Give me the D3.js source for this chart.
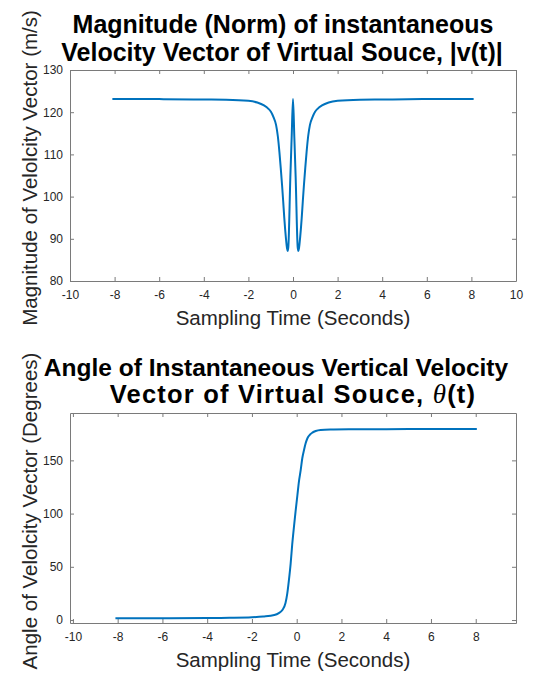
<!DOCTYPE html>
<head>
<meta charset="utf-8">
<style>
  body { margin: 0; background: #fff; }
  text { font-family: "Liberation Sans", Arial, Helvetica, sans-serif; }
  .axis path, .axis line { stroke: #7a7a7a; }
  .axis text { fill: #262626; font-size: 12px; }
  .title { font-weight: bold; fill: #000; text-anchor: middle; }
  .label { fill: #262626; text-anchor: middle; }
</style>
</head>
<body>
<svg width="546" height="675" id="svgMain"></svg>
<script src="https://cdn.jsdelivr.net/npm/d3@7"></script>
<script>
//-----------------------------------------------------
//   DATA
//-----------------------------------------------------
// top panel: |v(t)| in m/s
var tTop = [-8.1, -6, -4, -3, -2, -1.6, -1.3, -1.1, -0.99, -0.88, -0.76, -0.68, -0.61, -0.55, -0.49, -0.44,
            -0.39, -0.32, -0.27, -0.24, -0.21, -0.12, -0.06, 0,
            0.06, 0.12, 0.21, 0.24, 0.27, 0.32, 0.39, 0.44, 0.49, 0.55, 0.61, 0.68, 0.76, 0.88, 0.99,
            1.1, 1.3, 1.6, 2, 3, 4, 6, 8.1];
var vTop = [123.1, 123.1, 123.0, 122.95, 122.7, 122.3, 121.6, 120.8, 120.1, 118.9, 117.0, 114.3, 110.6, 106.8, 102.7, 98.9,
            94.9, 90.3, 87.8, 87.1, 88.0, 104.5, 114.0, 123.1,
            114.0, 104.5, 88.0, 87.1, 87.8, 90.3, 94.9, 98.9, 102.7, 106.8, 110.6, 114.3, 117.0, 118.9, 120.1,
            120.8, 121.6, 122.3, 122.7, 122.95, 123.0, 123.1, 123.1];

// bottom panel: theta(t) in degrees
var tBot = [-8.1, -6, -4, -3, -2, -1.5, -1.0, -0.8, -0.64, -0.5, -0.42, -0.35, -0.27, -0.2, -0.12, -0.05,
            0.03, 0.1, 0.18, 0.25, 0.33, 0.4, 0.48, 0.6, 0.7, 0.85, 1.07, 1.5, 2.4, 4, 6, 8.05];
var angBot = [1.6, 1.7, 1.9, 2.1, 2.6, 3.3, 4.7, 6.5, 9.4, 16, 25, 37, 53, 71, 88, 102,
              117, 130, 141, 152, 160, 166, 170.8, 174.3, 176, 177.6, 178.6, 179.0, 179.2, 179.3, 179.4, 179.5];

var xTicksTop = [-10, -8, -6, -4, -2, 0, 2, 4, 6, 8, 10];
var yTicksTop = [80, 90, 100, 110, 120, 130];
var xTicksBot = [-10, -8, -6, -4, -2, 0, 2, 4, 6, 8];
var yTicksBot = [0, 50, 100, 150];

var svg = d3.select("svg");

//-----------------------------------------------------
//   ONE MATLAB-STYLE PANEL (BOX, INWARD TICKS)
//-----------------------------------------------------
function drawPanel(p) {
  var x = d3.scaleLinear().domain(p.xDom).range([p.left, p.right]),
      y = d3.scaleLinear().domain(p.yDom).range([p.bottom, p.top]),
      fmt = function(d) { return String(d); },
      g = svg.append("g");

  g.append("g").attr("class", "axis")
      .attr("transform", "translate(0," + p.bottom + ")")
      .call(d3.axisBottom(x).tickValues(p.xTicks).tickFormat(fmt)
        .tickSizeInner(-4).tickSizeOuter(0).tickPadding(p.xPad));
  g.append("g").attr("class", "axis")
      .attr("transform", "translate(0," + p.top + ")")
      .call(d3.axisTop(x).tickValues(p.xTicks).tickFormat("")
        .tickSizeInner(-4).tickSizeOuter(0));
  g.append("g").attr("class", "axis")
      .attr("transform", "translate(" + p.left + ",0)")
      .call(d3.axisLeft(y).tickValues(p.yTicks).tickFormat(fmt)
        .tickSizeInner(-4).tickSizeOuter(0).tickPadding(7));
  g.append("g").attr("class", "axis")
      .attr("transform", "translate(" + p.right + ",0)")
      .call(d3.axisRight(y).tickValues(p.yTicks).tickFormat("")
        .tickSizeInner(-4).tickSizeOuter(0));

  var line = d3.line()
      .curve(d3.curveMonotoneX)
      .x(function(d) { return x(d[0]); })
      .y(function(d) { return y(d[1]); });

  g.append("path")
      .datum(d3.zip(p.xs, p.ys))
      .attr("fill", "none")
      .attr("stroke", "#0072BD")
      .attr("stroke-width", 2)
      .attr("stroke-linejoin", "round")
      .attr("d", line);

  g.append("text").attr("class", "label")
      .attr("x", (p.left + p.right) / 2)
      .attr("y", p.xLabelY)
      .style("font-size", "20.5px")
      .text("Sampling Time (Seconds)");

  g.append("text").attr("class", "label")
      .attr("transform", "translate(37," + p.yLabelMid + ") rotate(-90)")
      .style("font-size", "20.5px")
      .text(p.yLabel);
  return g;
}

drawPanel({
  left: 70, right: 516, top: 70, bottom: 281,
  xDom: [-10, 10], yDom: [80, 130],
  xTicks: xTicksTop, yTicks: yTicksTop, xPad: 9,
  xs: tTop, ys: vTop,
  xLabelY: 325, yLabel: "Magnitude of Velolcity Vector (m/s)", yLabelMid: 168
});

drawPanel({
  left: 70, right: 516, top: 413, bottom: 623,
  xDom: [-10.13, 9.8], yDom: [-2.8, 194.5],
  xTicks: xTicksBot, yTicks: yTicksBot, xPad: 9,
  xs: tBot, ys: angBot,
  xLabelY: 667, yLabel: "Angle of Velolcity Vector (Degrees)", yLabelMid: 511
});

//-----------------------------------------------------
//   TITLES
//-----------------------------------------------------
svg.append("text").attr("class", "title")
    .attr("x", 283).attr("y", 33).style("font-size", "25px")
    .text("Magnitude (Norm) of instantaneous");
svg.append("text").attr("class", "title")
    .attr("x", 282).attr("y", 61).style("font-size", "25px")
    .text("Velocity Vector of Virtual Souce, |v(t)|");

svg.append("text").attr("class", "title")
    .attr("x", 276).attr("y", 376).style("font-size", "24.5px")
    .text("Angle of Instantaneous Vertical Velocity");
// the tex-rendered second line is set a little wider in the original
var t2 = svg.append("text").attr("class", "title")
    .attr("x", 293).attr("y", 403).style("font-size", "25.5px")
    .style("letter-spacing", "1.2px");
t2.append("tspan").text("Vector of Virtual Souce, ");
t2.append("tspan")
    .style("font-family", "'Liberation Serif', 'Times New Roman', serif")
    .style("font-style", "italic").style("font-weight", "normal")
    .style("font-size", "27px")
    .text("\u03b8");
t2.append("tspan").text("(t)");
</script>
</body>
